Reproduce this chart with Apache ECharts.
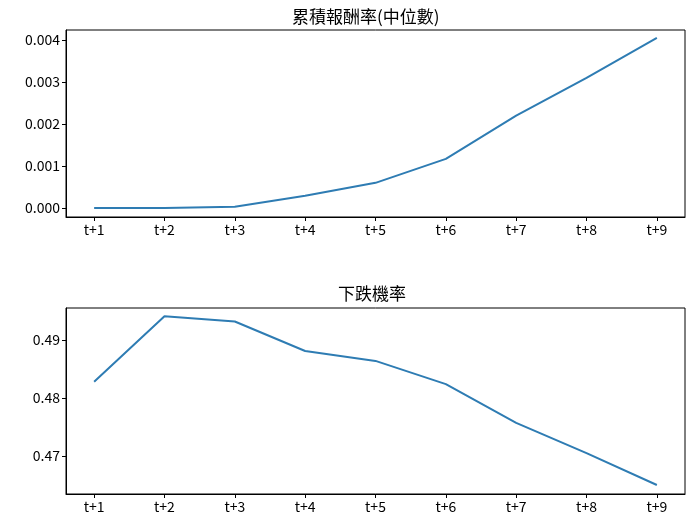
<!DOCTYPE html><html><head><meta charset="utf-8">
<script src="https://cdn.jsdelivr.net/npm/echarts@6/dist/echarts.min.js"></script>
<style>html,body{margin:0;padding:0;background:#fff}#c{width:696px;height:528px}</style></head><body><div id="c"></div>
<script>
const categories=['t+1','t+2','t+3','t+4','t+5','t+6','t+7','t+8','t+9'];
const cumReturn=[0,0,0.00003,0.00029,0.0006,0.00117,0.0022,0.0031,0.00405];
const downProb=[0.4828,0.4941,0.4932,0.4881,0.4864,0.4824,0.4757,0.4705,0.465];
const topTicks=[0,0.001,0.002,0.003,0.004];
const botTicks=[0.47,0.48,0.49];
const titles=['累積報酬率(中位數)','下跌機率'];
const font='"Noto Sans CJK TC","DejaVu Sans",sans-serif';
const idx=categories.map((_,i)=>i);
function xa(g){return {type:'value',gridIndex:g,min:-0.4,max:8.4,
 axisLine:{show:true,onZero:false,lineStyle:{color:'#000'}},
 axisTick:{show:true,customValues:idx,length:4,lineStyle:{color:'#000'}},
 axisLabel:{customValues:idx,formatter:v=>categories[Math.round(v)],color:'#000',fontSize:14,fontFamily:font,margin:6},
 splitLine:{show:false}};}
function ya(g,min,max,ticks,dec){return {type:'value',gridIndex:g,min:min,max:max,
 axisLine:{show:true,onZero:false,lineStyle:{color:'#000'}},
 axisTick:{show:true,customValues:ticks,length:4,lineStyle:{color:'#000'}},
 axisLabel:{customValues:ticks,formatter:v=>v.toFixed(dec),color:'#000',fontSize:14,fontFamily:font,margin:6},
 splitLine:{show:false}};}
const ch=echarts.init(document.getElementById('c'));
ch.setOption({animation:false,
 title:[{text:titles[0],left:287,top:3,textStyle:{fontSize:17,fontWeight:'normal',color:'#000',fontFamily:font}},
        {text:titles[1],left:333,top:280,textStyle:{fontSize:17,fontWeight:'normal',color:'#000',fontFamily:font}}],
 grid:[{left:66,right:11,top:30,height:187,show:true,borderColor:'#000',borderWidth:1},
       {left:66,right:11,top:308,height:186,show:true,borderColor:'#000',borderWidth:1}],
 xAxis:[xa(0),xa(1)],
 yAxis:[ya(0,-0.000214,0.00424,topTicks,3),ya(1,0.46345,0.49552,botTicks,2)],
 series:[{type:'line',xAxisIndex:0,yAxisIndex:0,data:cumReturn.map((v,i)=>[i,v]),showSymbol:false,lineStyle:{color:'#2e7cb3',width:2}},
         {type:'line',xAxisIndex:1,yAxisIndex:1,data:downProb.map((v,i)=>[i,v]),showSymbol:false,lineStyle:{color:'#2e7cb3',width:2}}]
});
</script></body></html>
